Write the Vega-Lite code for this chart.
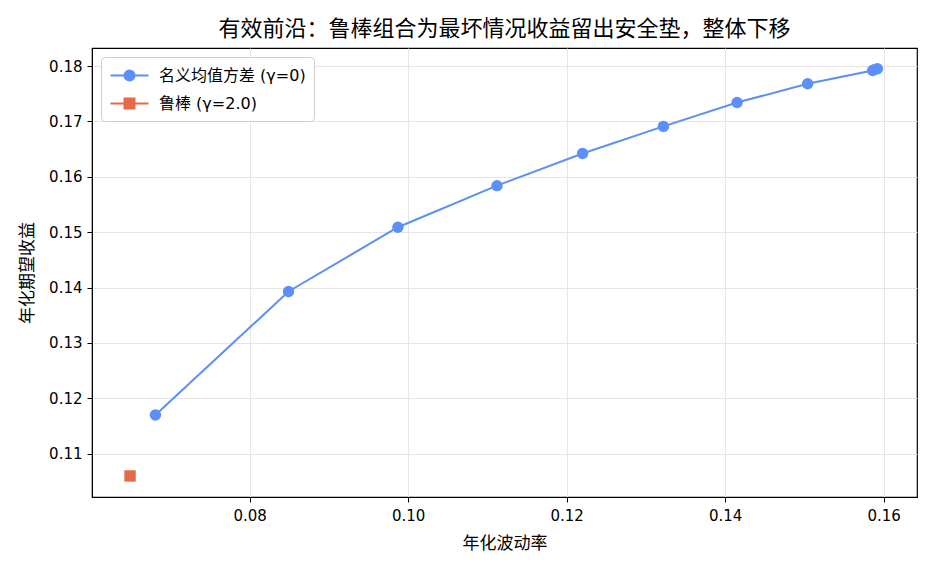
{
  "$schema": "https://vega.github.io/schema/vega-lite/v6.json",
  "width": 825,
  "height": 449,
  "autosize": {"type": "none"},
  "padding": {"left": 92, "top": 48, "right": 19, "bottom": 75},
  "background": "white",
  "title": {"text": "有效前沿：鲁棒组合为最坏情况收益留出安全垫，整体下移", "fontSize": 22, "fontWeight": "normal", "offset": 7, "color": "black"},
  "data": {
    "values": [
      {"series": "名义均值方差 (γ=0)", "i": 1, "vol": 0.0681, "ret": 0.1170},
      {"series": "名义均值方差 (γ=0)", "i": 2, "vol": 0.0849, "ret": 0.1393},
      {"series": "名义均值方差 (γ=0)", "i": 3, "vol": 0.0987, "ret": 0.1509},
      {"series": "名义均值方差 (γ=0)", "i": 4, "vol": 0.1112, "ret": 0.1584},
      {"series": "名义均值方差 (γ=0)", "i": 5, "vol": 0.1220, "ret": 0.1642},
      {"series": "名义均值方差 (γ=0)", "i": 6, "vol": 0.1322, "ret": 0.1691},
      {"series": "名义均值方差 (γ=0)", "i": 7, "vol": 0.1415, "ret": 0.1734},
      {"series": "名义均值方差 (γ=0)", "i": 8, "vol": 0.1504, "ret": 0.1768},
      {"series": "名义均值方差 (γ=0)", "i": 9, "vol": 0.1586, "ret": 0.1792},
      {"series": "名义均值方差 (γ=0)", "i": 10, "vol": 0.1589, "ret": 0.1794},
      {"series": "名义均值方差 (γ=0)", "i": 11, "vol": 0.1592, "ret": 0.1795},
      {"series": "鲁棒 (γ=2.0)", "i": 1, "vol": 0.0649, "ret": 0.1060}
    ]
  },
  "encoding": {
    "x": {"field": "vol", "type": "quantitative", "title": "年化波动率",
      "scale": {"domain": [0.0601, 0.1642], "nice": false, "zero": false},
      "axis": {"values": [0.08, 0.10, 0.12, 0.14, 0.16], "format": ".2f", "labelPadding": 6, "titlePadding": 12}},
    "y": {"field": "ret", "type": "quantitative", "title": "年化期望收益",
      "scale": {"domain": [0.1022, 0.18325], "nice": false, "zero": false},
      "axis": {"values": [0.11, 0.12, 0.13, 0.14, 0.15, 0.16, 0.17, 0.18], "format": ".2f", "labelPadding": 5, "titlePadding": 12}}
  },
  "layer": [
    {
      "transform": [{"filter": "false"}],
      "mark": {"type": "point", "filled": false, "opacity": 1, "strokeWidth": 2},
      "encoding": {
        "color": {"field": "series", "type": "nominal",
          "scale": {"domain": ["名义均值方差 (γ=0)", "鲁棒 (γ=2.0)"], "range": ["#5B8FF9", "#E8684A"]},
          "legend": {
            "title": null, "orient": "top-left", "offset": 9, "padding": 8,
            "strokeColor": "#cccccc", "fillColor": "white", "cornerRadius": 4,
            "labelFontSize": 16, "labelColor": "black",
            "symbolSize": 361, "symbolStrokeWidth": 2, "symbolOffset": 10,
            "labelOffset": 19, "rowPadding": 8
          }},
        "shape": {"field": "series", "type": "nominal",
          "scale": {"domain": ["名义均值方差 (γ=0)", "鲁棒 (γ=2.0)"],
            "range": [
              "M-2,0L2,0M0.53,0A0.53,0.53,0,1,1,-0.53,0A0.53,0.53,0,1,1,0.53,0ZM0.32,0A0.32,0.32,0,1,1,-0.32,0A0.32,0.32,0,1,1,0.32,0ZM0.11,0A0.11,0.11,0,1,1,-0.11,0A0.11,0.11,0,1,1,0.11,0Z",
              "M-2,0L2,0M-0.526,-0.526L0.526,-0.526L0.526,0.526L-0.526,0.526ZM-0.316,-0.316L0.316,-0.316L0.316,0.316L-0.316,0.316ZM-0.105,-0.105L0.105,-0.105L0.105,0.105L-0.105,0.105Z"
            ]},
          "legend": {
            "title": null, "orient": "top-left", "offset": 9, "padding": 8,
            "strokeColor": "#cccccc", "fillColor": "white", "cornerRadius": 4,
            "labelFontSize": 16, "labelColor": "black",
            "symbolSize": 361, "symbolStrokeWidth": 2, "symbolOffset": 10,
            "labelOffset": 19, "rowPadding": 8
          }}
      }
    },
    {
      "transform": [{"filter": "datum.series === '名义均值方差 (γ=0)'"}],
      "mark": {"type": "line", "strokeWidth": 2},
      "encoding": {
        "order": {"field": "i", "type": "quantitative"},
        "color": {"field": "series", "type": "nominal", "legend": null}
      }
    },
    {
      "transform": [{"filter": "datum.series === '名义均值方差 (γ=0)'"}],
      "mark": {"type": "circle", "opacity": 1, "size": 130},
      "encoding": {
        "color": {"field": "series", "type": "nominal", "legend": null}
      }
    },
    {
      "transform": [{"filter": "datum.series === '鲁棒 (γ=2.0)'"}],
      "mark": {"type": "square", "opacity": 1, "size": 130},
      "encoding": {
        "color": {"field": "series", "type": "nominal", "legend": null}
      }
    }
  ],
  "config": {
    "font": "DejaVu Sans, Noto Sans CJK SC",
    "view": {"stroke": "black", "strokeWidth": 1.2},
    "axis": {
      "domainColor": "black",
      "tickColor": "black",
      "tickSize": 5,
      "gridColor": "#e6e6e6",
      "labelColor": "black",
      "labelFontSize": 15,
      "titleFontSize": 17,
      "titleFontWeight": "normal",
      "titleColor": "black"
    }
  }
}
